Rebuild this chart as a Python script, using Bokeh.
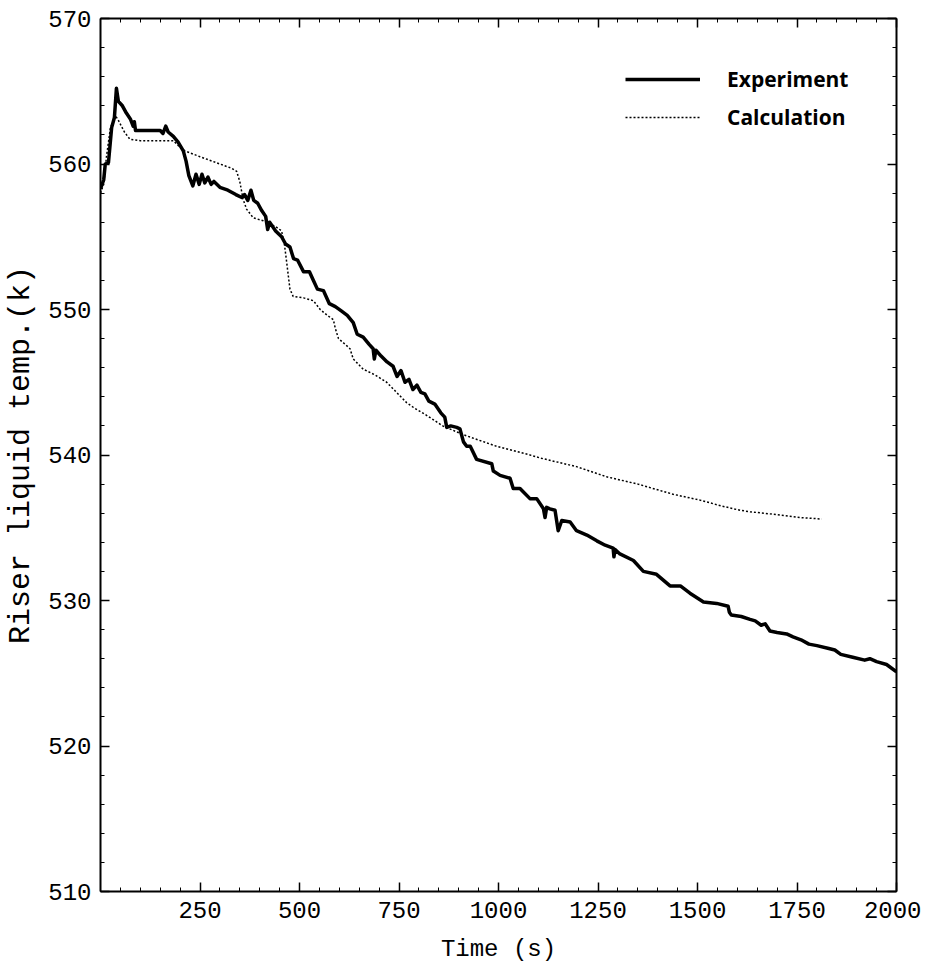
from bokeh.plotting import figure
from bokeh.models import (Range1d, LinearAxis, FixedTicker, Legend, LegendItem,
                          CustomJSTickFormatter)
from bokeh.embed import file_html
from bokeh.resources import INLINE

# ---- data ----
exp_time = [0, 8, 12, 20, 28, 35, 40, 45, 55, 65, 75, 82, 85, 88, 100, 130, 150, 157, 164,
            170, 183, 195, 208, 215, 222, 232, 240, 248, 255, 262, 270, 278, 285, 300, 320,
            340, 355, 362, 370, 378, 385, 395, 405, 415, 420, 425, 440, 455, 465, 476, 485,
            495, 510, 525, 535, 545, 560, 575, 590, 605, 620, 635, 645, 660, 675, 685, 688,
            692, 705, 720, 735, 745, 755, 765, 775, 785, 795, 805, 815, 825, 840, 855, 865,
            870, 880, 895, 903, 912, 920, 929, 945, 983, 987, 1004, 1029, 1037, 1054, 1079,
            1096, 1113, 1117, 1121, 1129, 1142, 1150, 1159, 1180, 1196, 1222, 1247, 1268,
            1288, 1290, 1293, 1305, 1339, 1364, 1397, 1431, 1457, 1481, 1515, 1548, 1577,
            1580, 1585, 1610, 1632, 1645, 1660, 1670, 1682, 1700, 1724, 1740, 1760, 1780,
            1800, 1830, 1845, 1860, 1890, 1920, 1933, 1950, 1975, 2000]
exp_temp = [558.3, 558.9, 560.0, 560.1, 562.5, 563.2, 565.2, 564.3, 564.0, 563.5, 563.1,
            562.6, 562.9, 562.3, 562.3, 562.3, 562.3, 562.1, 562.6, 562.2, 561.9, 561.5,
            560.9, 560.2, 559.2, 558.5, 559.3, 558.6, 559.3, 558.7, 559.1, 558.6, 558.8,
            558.4, 558.2, 557.9, 557.7, 557.9, 557.5, 558.2, 557.5, 557.3, 556.8, 556.4,
            555.5, 556.0, 555.4, 555.0, 554.5, 554.3, 553.5, 553.4, 552.6, 552.6, 552.0,
            551.4, 551.3, 550.4, 550.2, 549.9, 549.6, 549.1, 548.3, 548.1, 547.6, 547.3,
            546.6, 547.2, 546.8, 546.4, 546.1, 545.4, 545.8, 545.0, 545.2, 544.5, 544.8,
            544.3, 544.2, 543.7, 543.5, 542.9, 542.6, 541.9, 542.0, 541.9, 541.8, 540.9,
            540.6, 540.6, 539.7, 539.4, 538.9, 538.6, 538.4, 537.7, 537.7, 537.0, 537.0,
            536.3, 535.7, 536.4, 536.3, 536.2, 534.8, 535.5, 535.4, 534.8, 534.5, 534.1,
            533.8, 533.6, 533.0, 533.5, 533.2, 532.75, 532.0, 531.8, 531.0, 531.0, 530.5,
            529.9, 529.8, 529.6, 529.2, 529.0, 528.9, 528.7, 528.6, 528.3, 528.4, 527.9,
            527.8, 527.7, 527.5, 527.3, 527.0, 526.9, 526.7, 526.6, 526.3, 526.1, 525.9,
            526.0, 525.8, 525.6, 525.1]

calc_time = [0, 8, 15, 25, 38, 45, 60, 74, 100, 150, 183, 198, 212, 250, 300, 330, 342, 350,
             358, 367, 384, 409, 440, 455, 462, 468, 476, 484, 510, 535, 552, 570, 585, 590,
             598, 615, 627, 635, 660, 690, 719, 744, 769, 790, 815, 860, 911, 995, 1079,
             1104, 1196, 1272, 1350, 1439, 1506, 1560, 1607, 1632, 1700, 1758, 1812]
calc_temp = [558.0, 558.6, 560.5, 562.5, 563.3, 563.0, 562.2, 561.7, 561.6, 561.6, 561.6,
             561.2, 560.9, 560.5, 560.0, 559.7, 559.5, 558.8, 557.6, 556.9, 556.3, 556.1,
             555.7, 555.4, 554.5, 553.2, 551.4, 550.9, 550.8, 550.6, 550.0, 549.6, 549.3,
             548.7, 548.0, 547.6, 547.3, 546.6, 545.9, 545.5, 545.0, 544.3, 543.6, 543.2,
             542.8, 542.0, 541.4, 540.6, 540.0, 539.8, 539.2, 538.5, 538.0, 537.3, 536.9,
             536.5, 536.2, 536.1, 535.9, 535.7, 535.6]

x_major = [250, 500, 750, 1000, 1250, 1500, 1750, 2000]
x_minor = list(range(0, 2001, 50))
y_major = [510, 520, 530, 540, 550, 560, 570]
y_minor = list(range(510, 571, 2))

series_names = ["Experiment", "Calculation"]

MONO = "Liberation Mono"

p = figure(width=921, height=965, output_backend="svg", toolbar_location=None,
           x_range=Range1d(0, 2000), y_range=Range1d(510, 570),
           min_border_left=100, min_border_right=25, min_border_top=18, min_border_bottom=72)
p.grid.visible = False
p.outline_line_color = None
p.background_fill_color = "white"
p.border_fill_color = "white"

xt = FixedTicker(ticks=x_major, minor_ticks=x_minor)
yt = FixedTicker(ticks=y_major, minor_ticks=y_minor)

def style(ax, ticker):
    ax.ticker = ticker
    ax.axis_line_width = 2
    ax.axis_line_color = "black"
    ax.major_tick_in = 9
    ax.major_tick_out = 0
    ax.minor_tick_in = 4
    ax.minor_tick_out = 0
    ax.major_tick_line_width = 1.5
    ax.minor_tick_line_width = 1
    ax.major_tick_line_color = "black"
    ax.minor_tick_line_color = "black"
    ax.major_label_text_font = MONO
    ax.major_label_text_font_size = "24px"
    ax.major_label_text_color = "black"
    ax.axis_label_text_font = MONO
    ax.axis_label_text_font_style = "normal"
    ax.axis_label_text_color = "black"

style(p.xaxis[0], xt)
style(p.yaxis[0], yt)
p.xaxis[0].axis_label = "Time (s)"
p.xaxis[0].axis_label_text_font_size = "24px"
p.xaxis[0].major_label_standoff = 10
p.xaxis[0].axis_label_standoff = 15
p.yaxis[0].axis_label = "Riser liquid temp.(k)"
p.yaxis[0].axis_label_text_font_size = "30px"
p.yaxis[0].major_label_standoff = 9
p.yaxis[0].axis_label_standoff = 7

blank = CustomJSTickFormatter(code="return ''")
top = LinearAxis(formatter=blank, major_label_standoff=0)
right = LinearAxis(formatter=blank, major_label_standoff=0)
style(top, FixedTicker(ticks=x_major, minor_ticks=x_minor))
style(right, FixedTicker(ticks=y_major, minor_ticks=y_minor))
top.major_label_text_font_size = "0px"
right.major_label_text_font_size = "0px"
p.add_layout(top, "above")
p.add_layout(right, "right")

r_exp = p.line(exp_time, exp_temp, line_color="black", line_width=3.5, line_join="round")
r_calc = p.line(calc_time, calc_temp, line_color="black", line_width=1.5, line_dash="2 2")

legend = Legend(items=[LegendItem(label=series_names[0], renderers=[r_exp]),
                       LegendItem(label=series_names[1], renderers=[r_calc])],
                location=(525, 760), glyph_width=75, glyph_height=20, label_height=20,
                spacing=10, label_standoff=27, padding=0, margin=0,
                border_line_alpha=0, background_fill_alpha=0,
                label_text_font="Open Sans", label_text_font_style="bold",
                label_text_font_size="21px", label_text_color="black")
p.add_layout(legend)

open("out.html", "w").write(file_html(p, INLINE))
